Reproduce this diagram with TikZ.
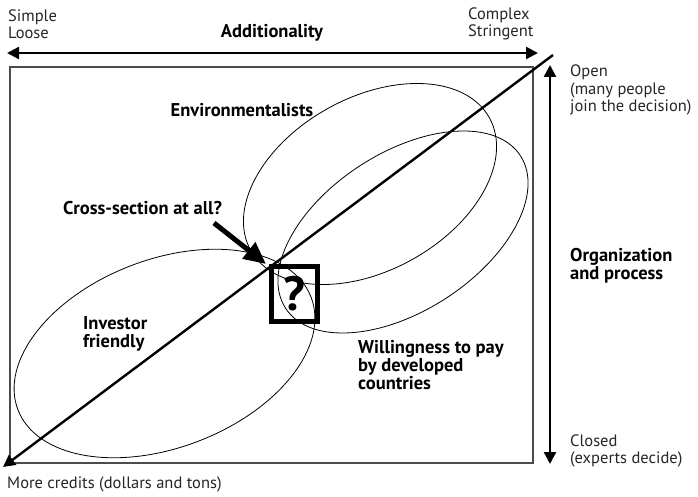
\documentclass[tikz,border=0pt]{standalone}
\usepackage{fontspec}
\setmainfont{PT Sans}
\usetikzlibrary{arrows.meta}
\begin{document}
\begin{tikzpicture}[x=1pt,y=-1pt,
  lbl/.style={inner sep=0pt,align=left,text=black!85,font=\fontsize{16.5}{17.5}\selectfont},
  blbl/.style={inner sep=0pt,align=left,text=black,font=\fontsize{18.5}{18}\selectfont\bfseries},
  axis/.style={line width=2.4pt,-{Triangle[length=12pt,width=12pt]}},
  oval/.style={line width=0.8pt,black}]
\useasboundingbox (0,0) rectangle (698,497);
% frame
\draw[line width=1.6pt,black!70] (10,67) rectangle (533,463);
% top axis
\coordinate (hl) at (7,53);
\coordinate (hr) at (538,53);
\draw[axis,{Triangle[length=12pt,width=12pt]}-{Triangle[length=12pt,width=12pt]}] (hl) -- (hr);
\node[lbl,anchor=west] (simple) at (8,24) {Simple\\Loose};
\node[lbl,anchor=west] (complex) at (468,24) {Complex\\Stringent};
\node[blbl] (add) at (272,33) {Additionality};
% vertical axis
\coordinate (vt) at (550,65);
\coordinate (vb) at (550,464);
\draw[axis,{Triangle[length=12pt,width=12pt]}-{Triangle[length=12pt,width=12pt]}] (vt) -- (vb);
\node[lbl,anchor=west] (open) at (570,90) {Open\\(many people\\join the decision)};
\node[blbl,anchor=west] (org) at (570,266) {Organization\\and process};
\node[lbl,anchor=west] (closed) at (570,451) {Closed\\(experts decide)};
% diagonal
\coordinate (dtr) at (553,55);
\coordinate (dbl) at (3,467);
\draw[axis] (dtr) -- (dbl);
\node[lbl,anchor=west] (more) at (7,484) {More credits (dollars and tons)};
% ellipses
\draw[oval,rotate around={29:(370,184)}] (370,184) ellipse [x radius=136.5pt,y radius=86.5pt];
\draw[oval,rotate around={33:(403,232)}] (403,232) ellipse [x radius=140pt,y radius=79pt];
\draw[oval,rotate around={21:(164.5,353.5)}] (164.5,353.5) ellipse [x radius=157pt,y radius=94pt];
% labels
\node[blbl] (env) at (242,110) {Environmentalists};
\node[blbl,anchor=west] (cross) at (63,208) {Cross-section at all?};
\node[blbl,anchor=west] (inv) at (83,334) {Investor\\friendly};
\node[blbl,anchor=west] (will) at (358,365) {Willingness to pay\\by developed\\countries};
% question box
\node[draw,line width=5pt,minimum width=46pt,minimum height=55pt,inner sep=0pt,
  font=\fontsize{48}{48}\selectfont\bfseries] (q) at (294.5,294) {?};
\coordinate (cs) at (214,223);
\coordinate (ct) at (266,264);
\draw[line width=5pt,-{Triangle[length=22pt,width=20pt]}] (cs) -- (ct);
\end{tikzpicture}
\end{document}
